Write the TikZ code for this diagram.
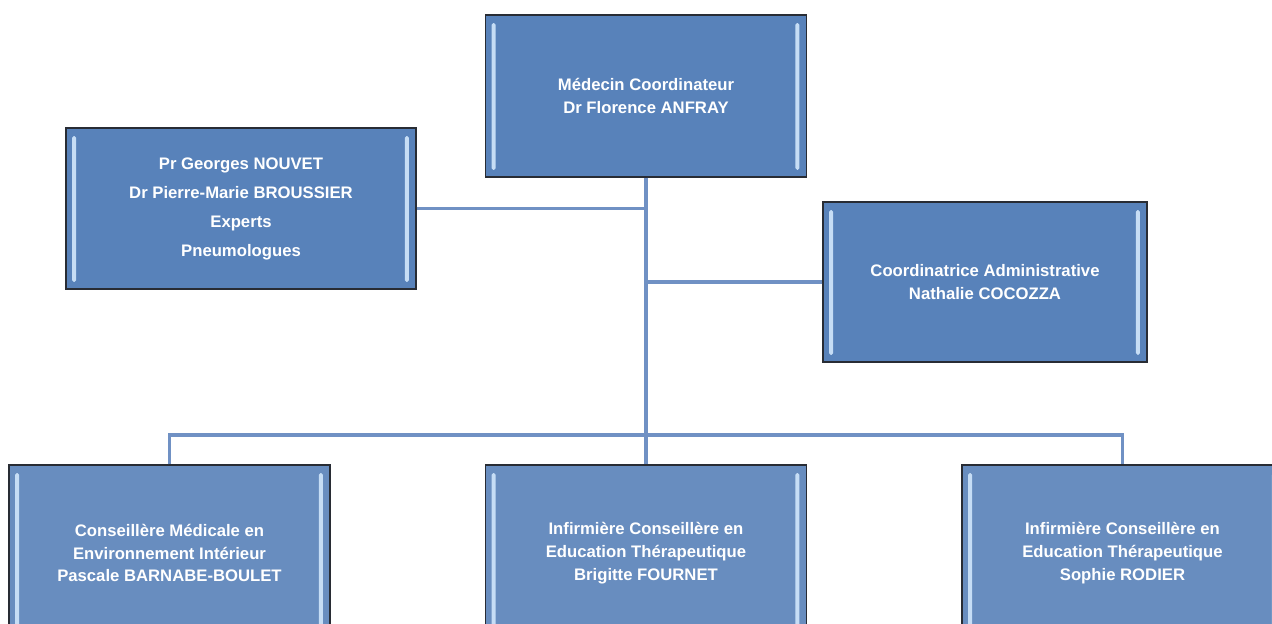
\documentclass[tikz,border=0pt]{standalone}
\usepackage{fontspec}
\setmainfont{Liberation Sans}
\definecolor{boxblue}{RGB}{88,130,186}
\definecolor{boxbluelight}{RGB}{104,141,191}
\definecolor{barblue}{RGB}{198,221,245}
\definecolor{edgegray}{RGB}{40,44,52}
\definecolor{linkblue}{RGB}{112,145,196}
\begin{document}
\begin{tikzpicture}[x=0.02cm,y=-0.02cm,
  box/.style={draw=edgegray,line width=0.8pt,fill=boxblue,text=white,
    font=\fontsize{9.5}{13}\selectfont\bfseries,align=center,inner sep=0pt,
    path picture={
      \fill[barblue,rounded corners=1pt] ([xshift=0.12cm,yshift=-0.16cm]path picture bounding box.north west) rectangle ([xshift=0.2cm,yshift=0.14cm]path picture bounding box.south west);
      \fill[barblue,rounded corners=1pt] ([xshift=-0.14cm,yshift=-0.16cm]path picture bounding box.north east) rectangle ([xshift=-0.22cm,yshift=0.14cm]path picture bounding box.south east);}},
  lowbox/.style={box,fill=boxbluelight,minimum width=6.42cm,minimum height=3.52cm},
  link/.style={draw=linkblue,line width=1.8pt}]
\useasboundingbox (0,0) rectangle (1272,624);
\clip (0,0) rectangle (1272,624);
\node[box,minimum width=6.42cm,minimum height=3.24cm] (medecin) at (646,96) {Médecin Coordinateur\\Dr Florence ANFRAY};
\node[box,minimum width=7cm,minimum height=3.22cm,font=\fontsize{9.5}{16.5}\selectfont\bfseries] (experts) at (241,208.5) {Pr Georges NOUVET\\Dr Pierre-Marie BROUSSIER\\Experts\\Pneumologues};
\node[box,minimum width=6.48cm,minimum height=3.2cm] (admin) at (985,282) {Coordinatrice Administrative\\Nathalie COCOZZA};
\node[lowbox] (cmei) at (169.5,553) {Conseillère Médicale en\\Environnement Intérieur\\Pascale BARNABE-BOULET};
\node[lowbox] (fournet) at (646,553) {Infirmière Conseillère en\\Education Thérapeutique\\Brigitte FOURNET};
\node[lowbox] (rodier) at (1122.5,553) {Infirmière Conseillère en\\Education Thérapeutique\\Sophie RODIER};
\coordinate (bus) at (646,435);
\draw[link] (medecin.south) -- (fournet.north);
\draw[link] (experts.east) -- (experts.east -| medecin.south);
\draw[link] (admin.west) -- (admin.west -| medecin.south);
\draw[link] (cmei.north) |- (bus) -| (rodier.north);
\end{tikzpicture}
\end{document}
